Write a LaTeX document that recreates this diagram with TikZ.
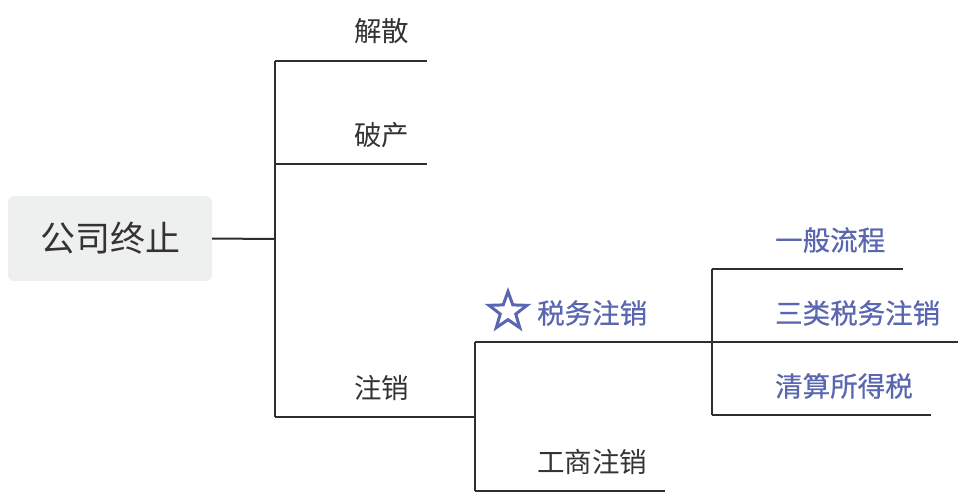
\documentclass[tikz,border=0pt]{standalone}
\usepackage{fontspec}
\setmainfont{Noto Sans CJK SC}
\newfontfamily\bluefont[FakeBold=0.7]{Noto Sans CJK SC}
\usetikzlibrary{shapes.geometric}
\definecolor{linec}{HTML}{2E2E2E}
\definecolor{txtc}{HTML}{333333}
\definecolor{bluec}{HTML}{5A67B0}
\definecolor{rootfill}{HTML}{EEF0EF}
\tikzset{
  conn/.style={draw=linec, line width=2pt},
  lvl/.style={anchor=west, inner sep=0pt, text=txtc, font=\fontsize{27.5}{32}\selectfont},
  bluelvl/.style={anchor=west, inner sep=0pt, text=bluec, font=\bluefont\fontsize{27.5}{32}\selectfont},
}
\begin{document}
\begin{tikzpicture}[x=1pt,y=-1pt]
\useasboundingbox (0,0) rectangle (966,496);
% root
\node[fill=rootfill, rounded corners=6pt, minimum width=204pt, minimum height=85pt, inner sep=0pt,
  text=txtc, font=\fontsize{35}{40}\selectfont] (root) at (110,238.5) {公司终止};
% level-1 junction
\coordinate (j1) at (275,239);
\coordinate (j1t) at (275,61);
\coordinate (j1b) at (275,417);
\draw[conn] (root.east) -- (j1);
\draw[conn] (j1t) -- (j1b);
% level 1 underlines
\coordinate (a0) at (275,61);  \coordinate (a1) at (427,61);
\coordinate (b0) at (275,164); \coordinate (b1) at (427,164);
\coordinate (c0) at (275,417); \coordinate (c1) at (427,417);
\draw[conn] (a0) -- (a1);
\draw[conn] (b0) -- (b1);
\draw[conn] (c0) -- (c1);
\node[lvl] (jiesan) at (354,31) {解散};
\node[lvl] (pochan) at (354,135) {破产};
\node[lvl] (zhuxiao) at (354,388) {注销};
% level 2
\coordinate (j2) at (475,417);
\coordinate (j2t) at (475,342);
\coordinate (j2b) at (475,491);
\draw[conn] (c1) -- (j2);
\draw[conn] (j2t) -- (j2b);
\coordinate (d1) at (665,342);
\coordinate (e1) at (665,491);
\draw[conn] (j2t) -- (d1);
\draw[conn] (j2b) -- (e1);
\node[bluelvl] (shuiwu) at (537,313) {税务注销};
\node[lvl] (gongshang) at (537,462) {工商注销};
\node[star, star points=5, star point ratio=2.45, draw=bluec, line width=3pt, minimum size=40pt, inner sep=0pt] (star) at (508,311.5) {};
% level 3
\coordinate (j3) at (712,342);
\coordinate (j3t) at (712,269);
\coordinate (j3b) at (712,415);
\draw[conn] (d1) -- (j3);
\draw[conn] (j3t) -- (j3b);
\coordinate (f1) at (903,269);
\coordinate (g1) at (958,342);
\coordinate (h1) at (931,415);
\draw[conn] (j3t) -- (f1);
\draw[conn] (j3) -- (g1);
\draw[conn] (j3b) -- (h1);
\node[bluelvl] (yiban) at (775,240) {一般流程};
\node[bluelvl] (sanlei) at (775,313) {三类税务注销};
\node[bluelvl] (qingsuan) at (775,386) {清算所得税};
\end{tikzpicture}
\end{document}
